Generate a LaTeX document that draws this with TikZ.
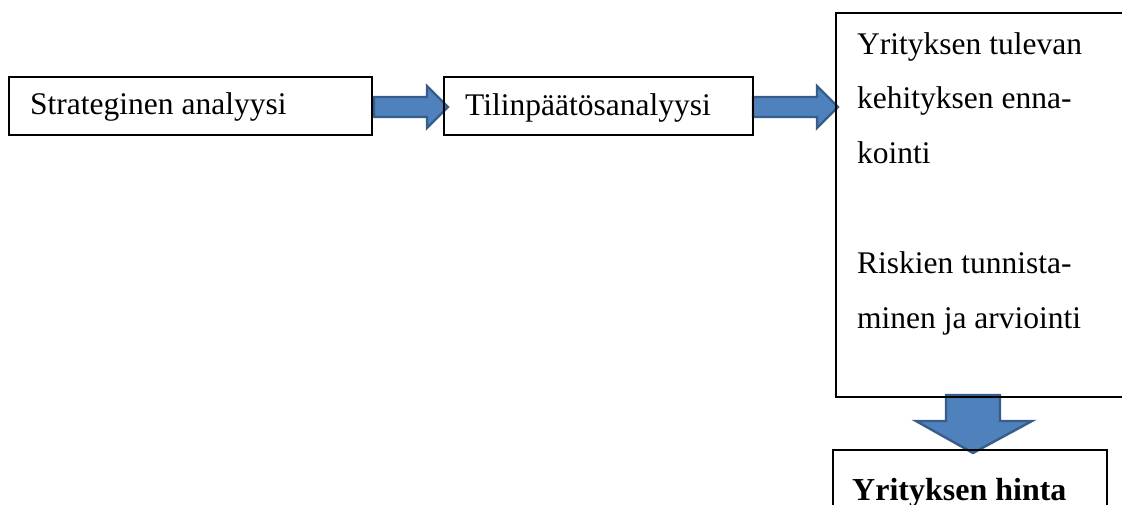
\documentclass[tikz,border=0pt]{standalone}
\usepackage{fontspec}
\setmainfont{Liberation Serif}
\usetikzlibrary{calc,backgrounds}
\definecolor{arrfill}{HTML}{4F81BD}
\definecolor{arrline}{HTML}{385D8A}
\begin{document}
\begin{tikzpicture}[x=1pt,y=-1pt,
  box/.style={draw=black, line width=1.3pt, inner sep=0pt, outer sep=0pt, anchor=north west},
  txt/.style={anchor=base west, inner sep=0pt, font=\fontsize{31.5}{37.8}\selectfont},
  blockarrow/.style={fill=arrfill, draw=arrline, line width=2.4pt, line join=miter}]
\useasboundingbox (0,0) rectangle (1122,505);
\clip (0,0) rectangle (1122,505);
% boxes
\node[box, minimum width=363pt, minimum height=58pt] (s) at (9,77) {};
\node[box, minimum width=309pt, minimum height=58pt] (t) at (444,77) {};
\node[box, minimum width=310pt, minimum height=384pt] (e) at (836,13) {};
\node[box, minimum width=274pt, minimum height=80pt] (h) at (833,450) {};
% texts
\node[txt] (st) at ($(s.north west)+(21,38)$) {Strateginen analyysi};
\node[txt] (tt) at ($(t.north west)+(21,39)$) {Tilinpäätösanalyysi};
\node[txt] (e1) at ($(e.north west)+(21,42)$) {Yrityksen tulevan};
\node[txt] (e2) at ($(e.north west)+(21,96)$) {kehityksen enna-};
\node[txt] (e3) at ($(e.north west)+(21,151)$) {kointi};
\node[txt] (e4) at ($(e.north west)+(21,260)$) {Riskien tunnista-};
\node[txt] (e5) at ($(e.north west)+(21,315)$) {minen ja arviointi};
\node[txt, font=\fontsize{32}{38}\selectfont\bfseries] (ht) at ($(h.north west)+(19,50)$) {Yrityksen hinta};
% block arrows
\begin{scope}[on background layer]
\draw[blockarrow] ($(s.north east)+(2,20)$) -- ++(53,0) -- ++(0,-11) -- ($(t.north west)+(4,30)$)
  -- ($(s.north east)+(55,51)$) -- ++(0,-11) -- ++(-53,0) -- cycle;
\draw[blockarrow] ($(t.north east)+(0,20)$) -- ++(64,0) -- ++(0,-11) -- ($(e.west |- t.north)+(2,30)$)
  -- ($(t.north east)+(64,51)$) -- ++(0,-11) -- ++(-64,0) -- cycle;
\draw[blockarrow] ($(e.south west)+(110,-2)$) -- ++(0,26) -- ++(-30,0) -- ($(h.north west)+(140,3)$)
  -- ($(e.south west)+(196,24)$) -- ++(-32,0) -- ++(0,-26) -- cycle;
\end{scope}
\end{tikzpicture}
\end{document}
